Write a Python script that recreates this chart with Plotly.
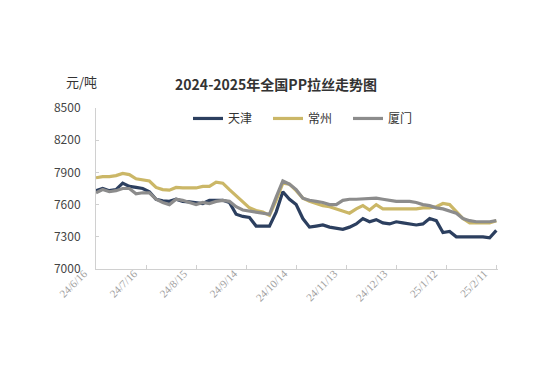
import datetime as dt
import plotly.graph_objects as go

start = dt.date(2024, 6, 16)
step_days = 4
tick_labels = ["24/6/16", "24/7/16", "24/8/15", "24/9/14", "24/10/14",
               "24/11/13", "24/12/13", "25/1/12", "25/2/11"]

tianjin = [7730, 7750, 7730, 7740, 7800, 7770, 7760, 7750, 7720, 7650,
           7635, 7630, 7650, 7630, 7625, 7620, 7610, 7640, 7640, 7640,
           7620, 7510, 7490, 7480, 7400, 7400, 7400, 7530, 7720, 7650,
           7600, 7470, 7390, 7400, 7410, 7390, 7380, 7370, 7390, 7420,
           7470, 7440, 7460, 7430, 7420, 7440, 7430, 7420, 7410, 7420,
           7470, 7450, 7340, 7350, 7300, 7300, 7300, 7300, 7300, 7290,
           7360]
changzhou = [7850, 7860, 7860, 7870, 7890, 7880, 7840, 7830, 7820, 7760,
             7740, 7735, 7760, 7755, 7755, 7755, 7770, 7770, 7810, 7800,
             7740, 7680, 7620, 7570, 7545, 7530, 7500, 7640, 7800, 7790,
             7730, 7660, 7630, 7610, 7590, 7580, 7560, 7540, 7520, 7560,
             7590, 7550, 7600, 7560, 7560, 7560, 7560, 7560, 7560, 7570,
             7570, 7580, 7610, 7600, 7540, 7470, 7430, 7430, 7430, 7430,
             7450]
xiamen = [7710, 7740, 7720, 7730, 7750, 7750, 7700, 7710, 7710, 7650,
          7620, 7600, 7650, 7640, 7620, 7600, 7620, 7610, 7630, 7640,
          7630, 7580, 7550, 7540, 7530, 7520, 7510, 7670, 7820, 7790,
          7740, 7660, 7640, 7630, 7620, 7600, 7600, 7640, 7650, 7650,
          7655, 7660, 7660, 7650, 7640, 7630, 7630, 7630, 7620, 7600,
          7590, 7570, 7560, 7540, 7520, 7470, 7450, 7440, 7440, 7440,
          7450]

dates = [start + dt.timedelta(days=step_days * i) for i in range(len(tianjin))]
tick_dates = [start + dt.timedelta(days=30 * i) for i in range(len(tick_labels))]

fig = go.Figure()
series = [("天津", tianjin, "#2c3f5f"), ("常州", changzhou, "#cbb767"), ("厦门", xiamen, "#8c8c8c")]
for name, vals, col in series:
    fig.add_trace(go.Scatter(x=dates, y=vals, name=name, mode="lines",
                             line=dict(color=col, width=3.2)))

fig.update_layout(
    width=534, height=387,
    paper_bgcolor="white", plot_bgcolor="white",
    margin=dict(l=88, r=44, t=100, b=126),
    font=dict(family="Noto Sans CJK SC, DejaVu Sans", color="#333"),
    title=dict(text="<b>2024-2025年全国PP拉丝走势图</b>", x=0.502, y=0.80,
               xanchor="center", yanchor="middle",
               font=dict(size=14, color="#333")),
    legend=dict(orientation="h", x=(180 - 88) / 402, y=0.935, xanchor="left", yanchor="middle",
                font=dict(size=12, color="#333"), bgcolor="rgba(0,0,0,0)",
                itemwidth=30, entrywidth=35, entrywidthmode="pixels"),
    showlegend=True,
)
fig.update_xaxes(
    type="date",
    range=[start, start + dt.timedelta(days=241)],
    tickvals=tick_dates, ticktext=tick_labels, tickangle=-45,
    tickfont=dict(size=11, color="#a0a0a0", family="Liberation Serif, DejaVu Serif"),
    ticklabelshift=-12, ticklabelstandoff=-7,
    showgrid=False, zeroline=False,
    showline=True, linecolor="#d0d0d0", linewidth=1,
    ticks="inside", ticklen=4, tickcolor="#d0d0d0",
)
fig.update_yaxes(
    range=[7000, 8500], tickvals=[7000, 7300, 7600, 7900, 8200, 8500],
    tickfont=dict(size=12, color="#444"),
    ticklabelstandoff=12,
    showgrid=False, zeroline=False,
    showline=True, linecolor="#d0d0d0", linewidth=1,
    ticks="inside", ticklen=3, tickcolor="#d0d0d0",
)
fig.add_annotation(text="元/吨", xref="paper", yref="paper",
                   x=(56 - 88) / 402, y=(261 - 73) / 161, xanchor="left", yanchor="middle",
                   showarrow=False, font=dict(size=13, color="#333"))

fig.write_html("out.html")
